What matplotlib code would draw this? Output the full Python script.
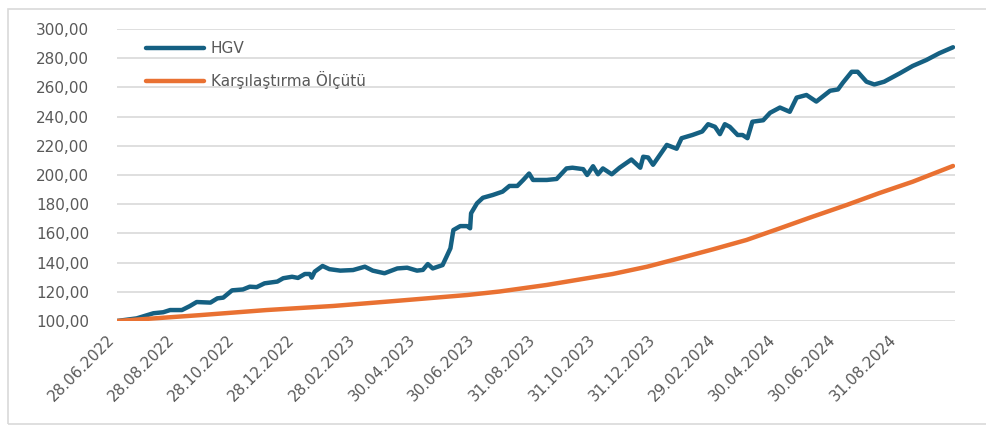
import matplotlib.pyplot as plt
import pandas as pd
from matplotlib.patches import Rectangle

plt.rcParams['font.family'] = ['DejaVu Sans']

# HGV series
hgv_dates = ['2022-06-28', '2022-07-18', '2022-08-04', '2022-08-14', '2022-08-21', '2022-09-02',
             '2022-09-10', '2022-09-17', '2022-10-01', '2022-10-08', '2022-10-14', '2022-10-23',
             '2022-11-03', '2022-11-10', '2022-11-17', '2022-11-25', '2022-12-08', '2022-12-14',
             '2022-12-23', '2022-12-29', '2023-01-05', '2023-01-10', '2023-01-12', '2023-01-15',
             '2023-01-23', '2023-01-30', '2023-02-10', '2023-02-23', '2023-03-07', '2023-03-15',
             '2023-03-27', '2023-04-09', '2023-04-19', '2023-04-29', '2023-05-05', '2023-05-10',
             '2023-05-15', '2023-05-25', '2023-05-29', '2023-06-02', '2023-06-05', '2023-06-12',
             '2023-06-19', '2023-06-22', '2023-06-23', '2023-06-29', '2023-07-05', '2023-07-15',
             '2023-07-25', '2023-08-01', '2023-08-09', '2023-08-15', '2023-08-21', '2023-08-25',
             '2023-09-08', '2023-09-18', '2023-09-28', '2023-10-04', '2023-10-15', '2023-10-19',
             '2023-10-25', '2023-10-30', '2023-11-04', '2023-11-13', '2023-11-21', '2023-12-03',
             '2023-12-12', '2023-12-15', '2023-12-20', '2023-12-25', '2024-01-08', '2024-01-18',
             '2024-01-23', '2024-02-03', '2024-02-13', '2024-02-19', '2024-02-26', '2024-03-02',
             '2024-03-07', '2024-03-12', '2024-03-20', '2024-03-25', '2024-03-30', '2024-04-04',
             '2024-04-15', '2024-04-22', '2024-05-02', '2024-05-12', '2024-05-19', '2024-05-29',
             '2024-06-08', '2024-06-22', '2024-06-30', '2024-07-05', '2024-07-14', '2024-07-20',
             '2024-07-29', '2024-08-06', '2024-08-16', '2024-09-01', '2024-09-14', '2024-09-28',
             '2024-10-11', '2024-10-25']
hgv_values = [100.0, 101.8, 105.3, 106.0, 107.5, 107.5,
              110.2, 113.0, 112.6, 115.5, 116.0, 121.0,
              121.6, 123.5, 123.2, 125.8, 127.0, 129.3,
              130.3, 129.5, 132.2, 132.2, 129.7, 133.8,
              137.7, 135.5, 134.5, 134.9, 137.2, 134.5,
              132.7, 136.0, 136.5, 134.5, 135.0, 139.0,
              136.0, 138.3, 144.0, 149.8, 162.3, 165.0,
              165.0, 163.5, 173.8, 180.6, 184.4, 186.3,
              188.6, 192.5, 192.5, 196.6, 201.0, 196.6,
              196.6, 197.3, 204.5, 205.0, 204.0, 200.0,
              206.0, 200.5, 204.5, 200.5, 205.0, 210.6,
              205.0, 212.5, 212.0, 207.0, 220.6, 218.0,
              225.2, 227.4, 229.8, 234.8, 233.0, 228.0,
              234.8, 233.0, 227.4, 227.4, 225.2, 236.5,
              237.5, 242.6, 246.2, 243.3, 253.0, 254.8,
              250.3, 257.7, 258.6, 263.2, 270.7, 270.7,
              263.9, 262.0, 263.9, 269.7, 274.7, 278.8,
              283.4, 287.5]

# benchmark series
bench_dates = ['2022-06-28', '2022-09-20', '2022-11-27', '2023-02-03', '2023-04-12', '2023-06-19',
               '2023-07-22', '2023-09-08', '2023-11-14', '2023-12-19', '2024-01-21', '2024-02-24',
               '2024-03-29', '2024-05-02', '2024-06-04', '2024-07-09', '2024-08-11', '2024-09-14',
               '2024-10-25']
bench_values = [100.0, 104.0, 107.5, 110.3, 114.0, 117.8,
                120.2, 124.7, 132.2, 137.2, 143.0, 149.1,
                155.5, 163.5, 171.4, 179.5, 187.6, 195.4,
                206.2]

tick_dates = ['2022-06-28', '2022-08-28', '2022-10-28', '2022-12-28', '2023-02-28', '2023-04-30',
              '2023-06-30', '2023-08-31', '2023-10-31', '2023-12-31', '2024-02-29', '2024-04-30',
              '2024-06-30', '2024-08-31']
y_ticks = [100, 120, 140, 160, 180, 200, 220, 240, 260, 280, 300]

blue = '#156082'
orange = '#E97132'
grey_txt = '#595959'

fig = plt.figure(figsize=(9.87, 4.26), dpi=100)
ax = fig.add_axes([117 / 987, 1 - 321 / 426, (955 - 117) / 987, (321 - 29) / 426])

ax.plot(pd.to_datetime(hgv_dates), hgv_values, color=blue, lw=3.2, label='HGV',
        solid_capstyle='round', solid_joinstyle='round', zorder=3)
ax.plot(pd.to_datetime(bench_dates), bench_values, color=orange, lw=3.2,
        label='Karşılaştırma Ölçütü', solid_capstyle='round', solid_joinstyle='round', zorder=3)

ax.set_ylim(100, 300)
ax.set_xlim(pd.Timestamp('2022-06-28'), pd.Timestamp('2024-10-27'))
ax.set_yticks(y_ticks)
ax.set_yticklabels([f'{v:.2f}'.replace('.', ',') for v in y_ticks])
ticks = pd.to_datetime(tick_dates)
ax.set_xticks(ticks)
ax.set_xticklabels([t.strftime('%d.%m.%Y') for t in ticks], rotation=45, ha='right', va='top')

ax.grid(axis='y', color='#D9D9D9', lw=1.2)
ax.set_axisbelow(True)
for s in ax.spines.values():
    s.set_visible(False)
ax.tick_params(axis='both', length=0, labelsize=11, colors=grey_txt)
ax.tick_params(axis='y', pad=20)
ax.tick_params(axis='x', pad=8)

ax.legend(loc='upper left', bbox_to_anchor=(146 / 987, 1 - 41 / 426), bbox_transform=fig.transFigure,
          frameon=False, fontsize=11, labelcolor=grey_txt, handlelength=3.8, handletextpad=0.45,
          labelspacing=0.98, borderpad=0, borderaxespad=0)

# outer chart border (right edge falls outside the picture)
fig.add_artist(Rectangle((8 / 987, 1 - 424 / 426), 1.0, (424 - 9) / 426, transform=fig.transFigure,
                         fill=False, edgecolor='#D9D9D9', lw=1.2))

fig.savefig('out.png', dpi=100)
